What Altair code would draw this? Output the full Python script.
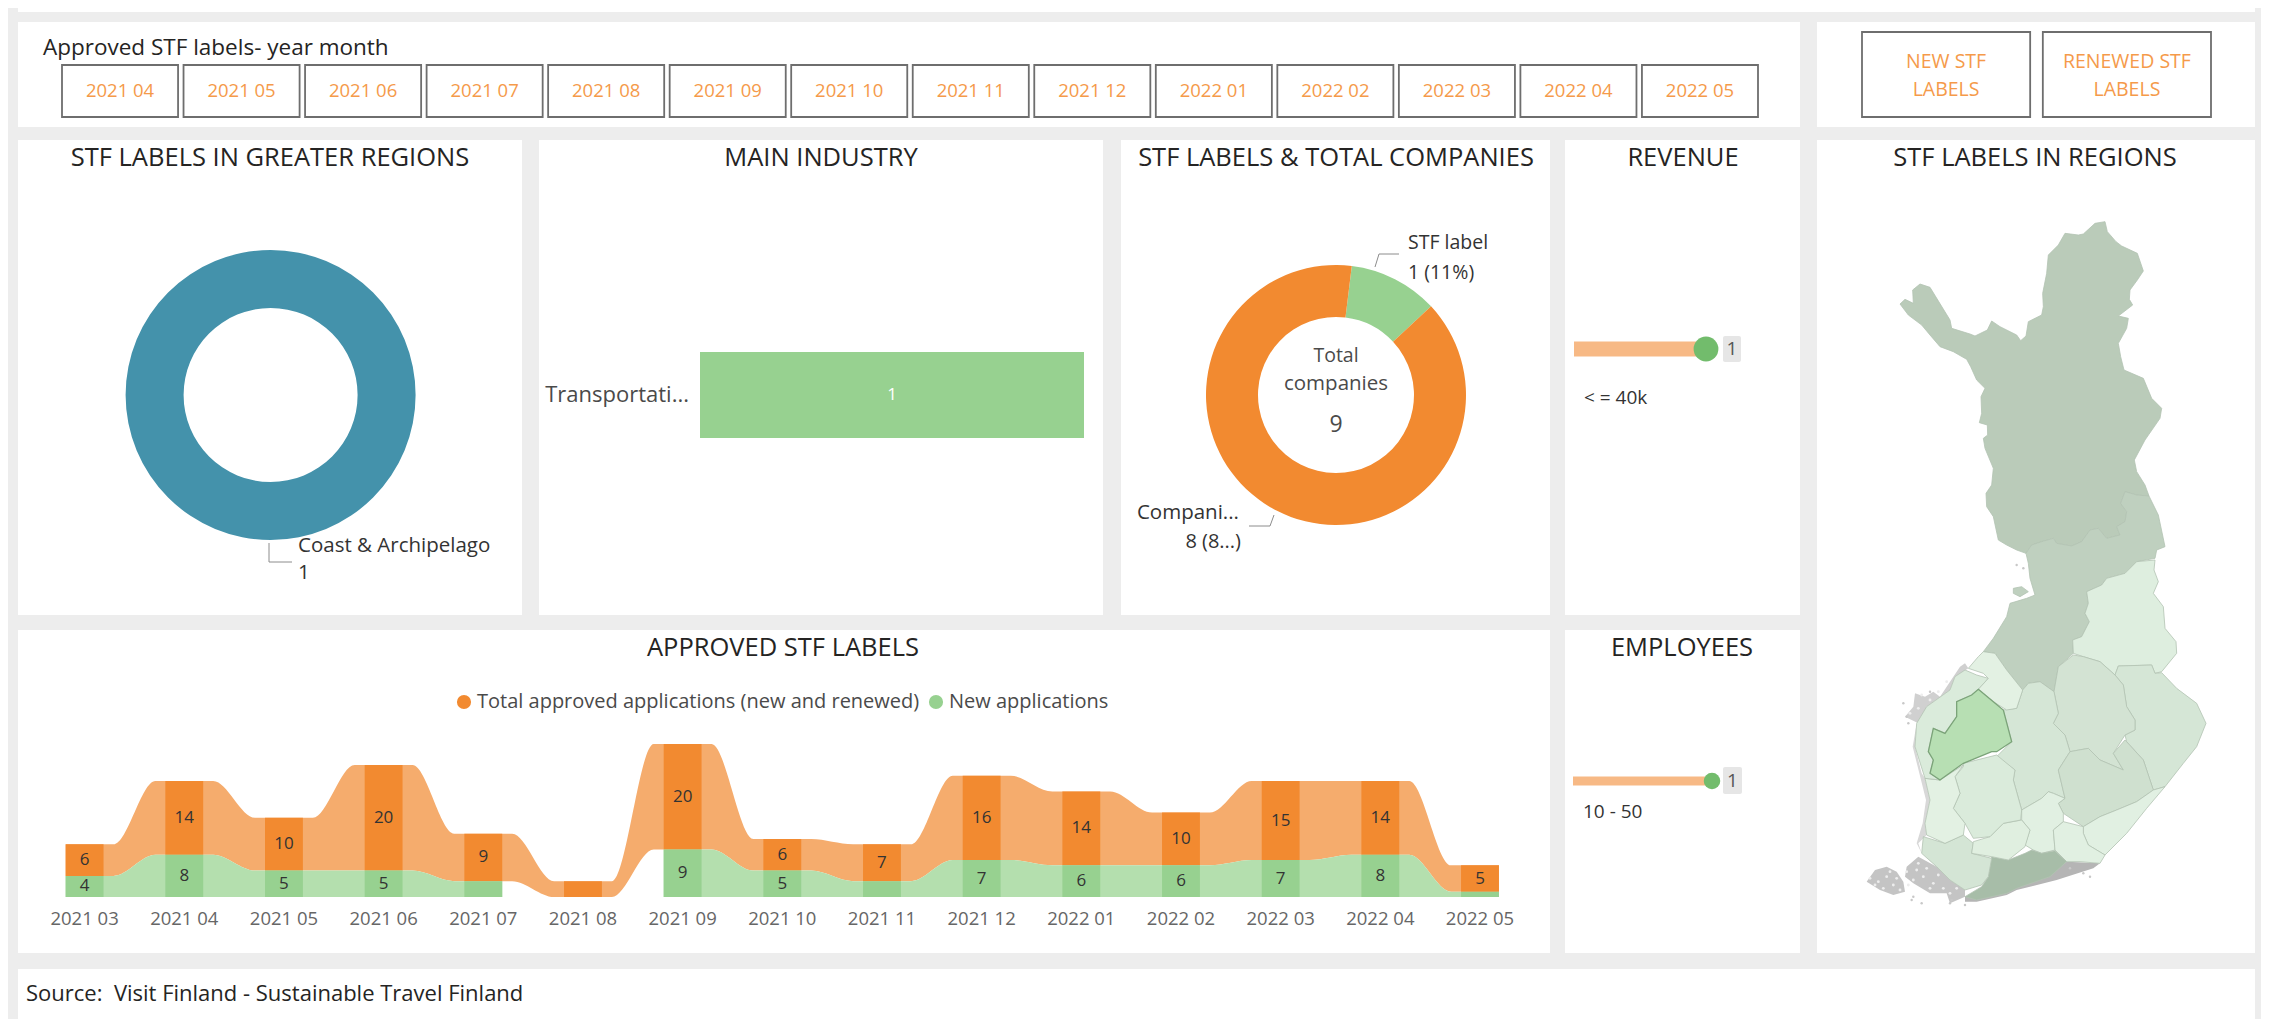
import altair as alt
import pandas as pd

FONT = "Open Sans"
ORANGE = "#F28A30"
ORANGE_L = "#F5AC6D"
GREEN = "#97D190"
GREEN_L = "#B4DFAE"
INK = "#252423"
GREY_TXT = "#4A4A4A"

# ---- values ----
filter_months = ["2021 04","2021 05","2021 06","2021 07","2021 08","2021 09","2021 10",
                 "2021 11","2021 12","2022 01","2022 02","2022 03","2022 04","2022 05"]
buttons = ["NEW STF\nLABELS", "RENEWED STF\nLABELS"]
months = ["2021 03","2021 04","2021 05","2021 06","2021 07","2021 08","2021 09","2021 10",
          "2021 11","2021 12","2022 01","2022 02","2022 03","2022 04","2022 05"]
new_apps = [4,8,5,5,3,0,9,5,3,7,6,6,7,8,1]
total_apps = [6,14,10,20,9,3,20,6,7,16,14,10,15,14,5]
SERIES = ["Total approved applications (new and renewed)", "New applications"]
region_names, region_values = ["Coast & Archipelago"], [1]
industry_names, industry_values = ["Transportati..."], [1]
share_names, share_values = ["STF label", "Companies"], [1, 8]
revenue_names, revenue_values = ["< = 40k"], [1]
employee_names, employee_values = ["10 - 50"], [1]

# map outlines (north part in one frame, south part offset by DY)
DY = 1050
def S(*pts):
    return [(x, y + DY) for x, y in pts]

lapland = [(765,35),(772,65),(798,95),(815,108),(862,130),(880,183),(862,210),(840,240),(838,268),(848,285),(805,318),(835,325),(830,355),(805,400),(812,440),(822,480),(880,505),(905,565),(935,595),(930,625),(885,690),(853,750),(860,785),(885,825),(897,858),(860,855),(825,845),(812,880),(830,905),(825,935),(800,950),(810,975),(770,985),(745,955),(720,960),(695,995),(665,1008),(620,1000),(610,985),(575,995),(545,1005),(528,1030),(500,1020),(470,1005),(445,990),(430,920),(410,890),(408,850),(425,825),(430,775),(405,715),(400,685),(413,675),(412,645),(388,638),(395,610),(393,560),(405,535),(380,510),(362,470),(350,448),(310,425),(270,410),(240,375),(215,345),(175,315),(150,282),(165,268),(190,280),(188,240),(210,222),(240,232),(300,330),(305,355),(360,372),(375,378),(412,360),(425,333),(450,350),(500,375),(512,392),(528,378),(535,335),(575,315),(580,290),(578,250),(590,190),(595,135),(625,105),(645,70),(685,75),(700,72),(735,40)]
n_ostro = [(528,1030),(545,1005),(575,995),(610,985),(620,1000),(665,1008),(695,995),(720,960),(745,955),(770,985),(810,975),(800,950),(825,935),(830,905),(812,880),(825,845),(860,855),(897,858),(925,915),(945,1010),(920,1020),(915,1045)] + S((860,5),(825,40),(770,55),(755,75),(710,95),(715,130),(705,160),(718,185),(695,230),(668,240),(670,280),(625,320),(612,395),(570,365),(535,370),(518,390),(470,330),(435,280),(400,275),(430,235),(470,170),(480,130),(530,115),(555,105),(540,55),(535,10))
hailuoto = S((490,85),(515,80),(535,95),(510,110),(490,100))
kainuu = S((915,0),(860,5),(825,40),(770,55),(755,75),(710,95),(715,130),(705,160),(718,185),(695,230),(668,240),(670,280),(700,290),(750,305),(795,345),(805,318),(905,315),(915,340),(935,335),(980,280),(978,245),(945,205),(940,140),(910,100),(925,65),(912,30))
n_karelia = S((805,318),(795,345),(820,375),(830,440),(855,480),(855,510),(825,525),(830,545),(880,600),(910,690),(945,680),(1000,610),(1040,560),(1068,490),(1040,430),(980,385),(935,338),(915,340),(905,315))
n_savo = S((625,320),(670,285),(700,290),(750,305),(795,345),(820,375),(830,440),(855,480),(855,510),(825,525),(790,580),(820,630),(750,600),(715,565),(660,575),(645,525),(610,490),(625,460),(612,395))
c_finland = S((518,390),(535,370),(570,365),(612,395),(625,460),(610,490),(645,525),(660,575),(625,630),(645,715),(610,700),(595,695),(575,715),(515,750),(490,660),(495,630),(440,590),(485,545),(460,450),(500,445))
s_savo = S((660,575),(715,565),(750,600),(820,630),(790,580),(825,540),(880,600),(910,690),(860,725),(800,750),(750,770),(700,800),(640,760),(625,730),(645,715),(625,630))
s_karelia = S((910,690),(945,680),(890,745),(830,820),(765,885),(715,855),(700,820),(700,800),(750,770),(800,750),(860,725))
paijat = S((515,750),(575,715),(595,695),(610,700),(645,715),(625,730),(640,760),(640,785),(610,810),(615,870),(575,880),(550,870),(525,855),(540,810),(515,780))
kymen = S((640,785),(700,800),(700,820),(715,855),(765,885),(750,910),(690,905),(650,905),(615,870),(610,810))
uusimaa = S((425,890),(475,900),(525,880),(545,870),(575,880),(615,872),(650,905),(600,950),(500,985),(470,1000),(380,1020),(345,1010),(395,980),(415,950))
varsinais = S((220,830),(285,850),(340,825),(370,850),(365,880),(425,895),(415,950),(395,975),(345,990),(300,960),(260,920),(215,880))
kanta = S((370,845),(420,830),(460,790),(515,780),(540,810),(525,860),(475,900),(425,890),(365,880))
pirkanmaa = S((340,620),(340,610),(440,585),(495,630),(490,660),(515,750),(512,780),(460,790),(420,830),(370,835),(345,790),(310,745),(330,700),(315,650))
satakunta = S((225,655),(270,660),(340,615),(315,650),(330,700),(310,745),(345,790),(340,825),(285,850),(230,825),(225,790),(240,720))
s_ostro = S((385,388),(430,425),(460,450),(485,545),(440,575),(425,575),(340,610),(270,660),(240,640),(250,600),(235,575),(250,505),(285,520),(320,470),(320,425),(365,405))
ostro = S((345,330),(380,345),(415,355),(385,388),(365,405),(320,425),(320,470),(285,520),(250,505),(235,575),(250,600),(240,640),(270,660),(225,655),(195,560),(200,490),(230,440),(300,390),(315,350))
c_ostro = S((400,275),(435,280),(470,330),(518,390),(500,445),(470,450),(430,425),(385,388),(415,355),(400,340),(355,325),(385,290))
aland = S((50,965),(75,930),(110,920),(140,935),(160,965),(165,995),(130,1005),(90,990))
turku_isl = S((170,920),(205,890),(260,920),(300,960),(345,990),(345,1010),(300,1030),(290,1000),(240,1000),(190,970),(165,950))
south_isl = S((345,1010),(380,1000),(500,970),(600,940),(650,905),(750,910),(730,925),(620,960),(500,990),(470,1005),(380,1025),(345,1025))
west_isl = S((195,400),(225,410),(250,395),(270,410),(330,320),(345,310),(355,325),(315,350),(300,390),(230,440),(205,490),(165,470),(190,440))
coast_isl = S((200,490),(195,560),(215,640),(225,655),(240,720),(225,790),(230,825),(205,850),(215,880),(200,850),(218,790),(228,720),(208,640),(188,560))

# gaps in the grey archipelago and its outlying islets
gaps_x = [85,110,130,60,100,150,120,75,140,220,250,280,200,240,190,265,300,230,205,320,170,175,215,240,265,180,290,205]
gaps_y = [965,950,975,955,985,990,935,975,955,950,970,985,930,985,960,945,1000,925,910,985,935,975,405,420,395,460,365,445]
islet_x = [190,215,185,305,160,170,345,300,660,700,720,500,520,240,175]
islet_y = [1010,1030,1020,1020,430,470,1035,1030,925,940,950,15,25,395,490]

map_islands = [(aland, "#C4C4C4"), (turku_isl, "#C4C4C4"), (south_isl, "#B5B5B5"),
               (west_isl, "#D0D0D0"), (coast_isl, "#D8D8D8")]
map_regions = [
    (lapland, "#BACBB9"), (n_ostro, "#BFD0BF"), (hailuoto, "#BFD0BF"), (kainuu, "#DEEEDF"),
    (n_karelia, "#D5E6D6"), (n_savo, "#D3E3D3"), (c_finland, "#D5E6D6"), (s_savo, "#CFE0CF"),
    (s_karelia, "#E1F0E2"), (paijat, "#E1F0E2"), (kymen, "#E1F0E2"), (uusimaa, "#A7BDA8"),
    (varsinais, "#D4E5D5"), (kanta, "#E0EFE0"), (pirkanmaa, "#DAEBDB"), (satakunta, "#E3F1E3"),
    (ostro, "#DAEBDB"), (c_ostro, "#E3F1E3"),
]
highlight = [(s_ostro, "#B7DFB3")]

# ---- helpers ----
ONE = pd.DataFrame({"k": [0]})

def label(text, x, y, ox, oy, size=15, color=GREY_TXT, align="left", **kw):
    return alt.Chart(ONE).mark_text(text=text, font=FONT, fontSize=size, color=color,
                                    align=align, baseline="middle", **kw).encode(
        x=alt.value(x - ox), y=alt.value(y - oy))

def heading(text, x, y, ox, oy):
    return label(text, x, y, ox, oy, size=25.5, color=INK, align="center")

def leader(pts, ox, oy):
    out = []
    for (x0, y0), (x1, y1) in zip(pts[:-1], pts[1:]):
        out.append(alt.Chart(ONE).mark_rule(color="#8C8C8C", strokeWidth=1).encode(
            x=alt.value(x0 - ox), x2=alt.value(x1 - ox),
            y=alt.value(y0 - oy), y2=alt.value(y1 - oy)))
    return out

def features(items):
    out = []
    for pts, fill in items:
        ring = [list(p) for p in pts] + [list(pts[0])]
        out.append({"type": "Feature", "properties": {"fill": fill},
                    "geometry": {"type": "Polygon", "coordinates": [ring]}})
    return out

def lollipop(name, value, ox, oy, w, h, x0, x1, ymid, thick, dotsize, box, cat_x, cat_y, title_xy, title):
    df = pd.DataFrame({"name": [name], "value": [value], "zero": [0]})
    xs = alt.Scale(domain=[0, 1], range=[x0 - ox, x1 - ox])
    bar = alt.Chart(df).mark_bar(color="#F7B985", height=thick).encode(
        x=alt.X("value:Q", scale=xs, axis=None), y=alt.value(ymid - oy))
    dot = alt.Chart(df).mark_circle(color="#72BC6C", size=dotsize, opacity=1).encode(
        x=alt.X("value:Q", scale=xs, axis=None), y=alt.value(ymid - oy))
    bg = alt.Chart(ONE).mark_rect(color="#E6E6E6", cornerRadius=2).encode(
        x=alt.value(box[0] - ox), x2=alt.value(box[1] - ox),
        y=alt.value(box[2] - oy), y2=alt.value(box[3] - oy))
    val = alt.Chart(df).mark_text(font=FONT, fontSize=19, color="#555555").encode(
        x=alt.value((box[0] + box[1]) / 2 - ox), y=alt.value(ymid - oy), text="value:Q")
    cat = alt.Chart(df).mark_text(font=FONT, fontSize=19, color="#333333", align="left").encode(
        x=alt.value(cat_x - ox), y=alt.value(cat_y - oy), text="name:N")
    return alt.layer(heading(title, title_xy[0], title_xy[1], ox, oy), bar, dot, bg, val, cat).properties(width=w, height=h)

# ---- top strip ----
strip = alt.Chart(ONE).mark_rect(color="white").encode(
    x=alt.value(0), x2=alt.value(2237), y=alt.value(0), y2=alt.value(4)).properties(width=2237, height=4)

# ---- filter panel ----
ox, oy = 18, 22
df_f = pd.DataFrame({"m": filter_months})
fx = alt.X("m:N", sort=None, axis=None,
           scale=alt.Scale(domain=filter_months, range=[62 - ox, 1758 - ox], paddingInner=0.045, paddingOuter=0))
filter_panel = alt.layer(
    label("Approved STF labels- year month", 43, 48, ox, oy, size=22.5, color=INK),
    alt.Chart(df_f).mark_rect(fill="white", stroke="#6E6E6E", strokeWidth=1.8).encode(
        x=fx, y=alt.value(65 - oy), y2=alt.value(117 - oy)),
    alt.Chart(df_f).mark_text(font=FONT, fontSize=18.5, color="#F59A4A").encode(
        x=fx, y=alt.value(91 - oy), text="m:N"),
).properties(width=1782, height=105)

# ---- buttons ----
ox = 1817
df_b = pd.DataFrame({"b": buttons})
bx = alt.X("b:N", sort=None, axis=None,
           scale=alt.Scale(domain=buttons, range=[1862 - ox, 2211 - ox], paddingInner=0.07, paddingOuter=0))
button_panel = alt.layer(
    alt.Chart(df_b).mark_rect(fill="white", stroke="#6E6E6E", strokeWidth=1.8).encode(
        x=bx, y=alt.value(32 - oy), y2=alt.value(117 - oy)),
    alt.Chart(df_b).mark_text(font=FONT, fontSize=19.5, color="#F59A4A", lineBreak="\n", lineHeight=28).encode(
        x=bx, y=alt.value(62 - oy), text="b:N"),
).properties(width=438, height=105)

# ---- greater regions donut ----
ox, oy = 18, 140
df_r = pd.DataFrame({"name": region_names, "value": region_values})
panel_a = alt.layer(
    heading("STF LABELS IN GREATER REGIONS", 270, 158, ox, oy),
    alt.Chart(df_r).mark_arc(radius=145, radius2=87, color="#4492AB").encode(
        theta="value:Q", x=alt.value(270.6 - ox), y=alt.value(395 - oy)),
    *leader([(269, 543), (269, 562), (292, 562)], ox, oy),
    alt.Chart(df_r).mark_text(font=FONT, fontSize=20.5, color="#333333", align="left").encode(
        x=alt.value(298 - ox), y=alt.value(546 - oy), text="name:N"),
    alt.Chart(df_r).mark_text(font=FONT, fontSize=20.5, color="#333333", align="left").encode(
        x=alt.value(298 - ox), y=alt.value(573 - oy), text="value:Q"),
).properties(width=504, height=475)

# ---- main industry ----
ox = 539
df_i = pd.DataFrame({"name": industry_names, "value": industry_values})
ix = alt.Scale(domain=[0, 1], range=[700 - ox, 1084 - ox])
iy = alt.Scale(domain=industry_names, range=[352 - oy, 438 - oy], paddingInner=0, paddingOuter=0)
panel_b = alt.layer(
    heading("MAIN INDUSTRY", 821, 158, ox, oy),
    alt.Chart(df_i).mark_bar(color=GREEN).encode(
        x=alt.X("value:Q", scale=ix, axis=None), y=alt.Y("name:N", scale=iy, axis=None)),
    alt.Chart(df_i).mark_text(font=FONT, fontSize=17, color="white").encode(
        x=alt.value((700 + 1084) / 2 - ox), y=alt.Y("name:N", scale=iy, axis=None), text="value:Q"),
    alt.Chart(df_i).mark_text(font=FONT, fontSize=22, color=GREY_TXT, align="right").encode(
        x=alt.value(689 - ox), y=alt.Y("name:N", scale=iy, axis=None), text="name:N"),
).properties(width=564, height=475)

# ---- share donut ----
ox = 1121
df_s = pd.DataFrame({"name": share_names, "value": share_values, "rank": [0, 1]})
panel_c = alt.layer(
    heading("STF LABELS & TOTAL COMPANIES", 1336, 158, ox, oy),
    alt.Chart(df_s).mark_arc(radius=130, radius2=78).encode(
        theta=alt.Theta("value:Q", stack=True, scale=alt.Scale(range=[0.122, 6.405])),
        order=alt.Order("rank:Q"),
        color=alt.Color("name:N", scale=alt.Scale(domain=share_names, range=[GREEN, ORANGE]), legend=None),
        x=alt.value(1336 - ox), y=alt.value(395 - oy)),
    label("Total", 1336, 356, ox, oy, size=19.5, align="center"),
    label("companies", 1336, 384, ox, oy, size=20.5, align="center"),
    label("9", 1336, 425, ox, oy, size=23, align="center"),
    *leader([(1375, 267), (1379, 254), (1399, 254)], ox, oy),
    *leader([(1274, 515), (1270, 526), (1249, 526)], ox, oy),
    label("STF label", 1408, 243, ox, oy, size=19.5, color="#333333"),
    label("1 (11%)", 1408, 273, ox, oy, size=19.5, color="#333333"),
    label("Compani...", 1239, 513, ox, oy, size=20.5, color="#333333", align="right"),
    label("8 (8...)", 1241, 542, ox, oy, size=20, color="#333333", align="right"),
).properties(width=429, height=475)

# ---- revenue ----
panel_d = lollipop(revenue_names[0], revenue_values[0], 1565, 140, 235, 475,
                   1574, 1706, 349, 15, 615, (1723, 1741, 336, 362), 1584, 398, (1683, 158), "REVENUE")

# ---- ribbon chart ----
ox, oy = 18, 630
HALF = 0.19
SHOULDER = 0.29
other_apps = total_apps

def offsets(first, last):
    left = [-HALF] if first else [-SHOULDER, -HALF]
    right = [HALF] if last else [HALF, SHOULDER]
    return left + right

ribbon_o, ribbon_g = [], []
last_i = len(months) - 1
for i, (n, o) in enumerate(zip(new_apps, other_apps)):
    for off in offsets(i == 0, i == last_i):
        ribbon_o.append({"pos": i + off, "new": n, "top": n + o})
    if n > 0:
        first = i == 0 or new_apps[i - 1] == 0
        last = i == last_i or new_apps[i + 1] == 0
        for off in offsets(first, last):
            ribbon_g.append({"pos": i + off, "new": n, "zero": 0, "seg": 0 if i < 5 else 1})
df_rib_o = pd.DataFrame(ribbon_o)
df_rib_g = pd.DataFrame(ribbon_g)
blocks = []
for i, (m, n, o) in enumerate(zip(months, new_apps, other_apps)):
    blocks.append({"l": i - HALF, "r": i + HALF, "b": n, "t": n + o, "s": SERIES[0], "mid": n + o / 2, "lab": o, "i": i, "m": m})
    if n > 0:
        blocks.append({"l": i - HALF, "r": i + HALF, "b": 0, "t": n, "s": SERIES[1], "mid": n / 2, "lab": n, "i": i, "m": m})
df_blk = pd.DataFrame(blocks)
xs = alt.Scale(domain=[0, 14], range=[84.6 - ox, 1480 - ox])
ys = alt.Scale(domain=[0, 29], range=[897 - oy, 744 - oy])
xq = lambda f: alt.X(f, scale=xs, axis=None)
yq = lambda f: alt.Y(f, scale=ys, axis=None)
panel_e = alt.layer(
    heading("APPROVED STF LABELS", 783, 648, ox, oy),
    alt.Chart(df_rib_o).mark_area(interpolate="monotone", color=ORANGE_L).encode(
        x=xq("pos:Q"), y=yq("new:Q"), y2="top:Q"),
    alt.Chart(df_rib_g).mark_area(interpolate="monotone", color=GREEN_L).encode(
        x=xq("pos:Q"), y=yq("new:Q"), y2="zero:Q", detail="seg:N"),
    alt.Chart(df_blk).mark_rect().encode(
        x=xq("l:Q"), x2="r:Q", y=yq("b:Q"), y2="t:Q",
        color=alt.Color("s:N", scale=alt.Scale(domain=SERIES, range=[ORANGE, GREEN]),
                        legend=alt.Legend(orient="none", legendX=436, legendY=62, direction="horizontal",
                                          title=None, symbolType="circle", symbolSize=200, symbolStrokeWidth=0,
                                          labelFont=FONT, labelFontSize=20, labelColor=GREY_TXT, labelLimit=600,
                                          labelOffset=3, columnPadding=6))),
    alt.Chart(df_blk[df_blk["lab"] >= 4]).mark_text(font=FONT, fontSize=17, color="#333333").encode(
        x=xq("i:Q"), y=yq("mid:Q"), text="lab:Q"),
    alt.Chart(df_blk.drop_duplicates("i")).mark_text(font=FONT, fontSize=18.5, color="#666666").encode(
        x=xq("i:Q"), y=alt.value(919 - oy), text="m:N"),
).properties(width=1532, height=323)

# ---- employees ----
panel_f = lollipop(employee_names[0], employee_values[0], 1565, 630, 235, 323,
                   1573, 1712, 781, 9, 272, (1723, 1742, 767, 794), 1583, 812, (1682, 648), "EMPLOYEES")

# ---- map ----
ox, oy = 1817, 140
PW = dict(type="identity", scale=1 / 3, translate=[1850 - ox, 210 - oy])
def geo(items, **mark):
    return alt.Chart(alt.Data(values=features(items))).mark_geoshape(**mark).encode(
        color=alt.Color("properties.fill:N", scale=None)).project(**PW)
def flecks(xv, yv, color, size):
    return alt.Chart(pd.DataFrame({"lon": xv, "lat": [v + DY for v in yv]})).mark_circle(
        color=color, size=size, opacity=1).encode(longitude="lon:Q", latitude="lat:Q").project(**PW)
panel_m = alt.layer(
    alt.Chart(ONE).mark_rect(color="white").encode(
        x=alt.value(0), x2=alt.value(438), y=alt.value(0), y2=alt.value(813)),
    heading("STF LABELS IN REGIONS", 2035, 158, ox, oy),
    geo(map_islands, strokeWidth=0),
    flecks(gaps_x, gaps_y, "#EDEDED", 8),
    flecks(islet_x, islet_y, "#C8C8C8", 6),
    geo(map_regions, stroke="#B3C3B3", strokeWidth=0.8),
    geo(highlight, stroke="#7BA379", strokeWidth=1.3),
).properties(width=438, height=813)

# ---- source ----
source_panel = label("Source:\u00a0 Visit Finland - Sustainable Travel Finland", 26, 994, 18, 969, size=22, color=INK).properties(width=2237, height=50)

# ---- layout ----
def ind(c):
    return c.resolve_scale(color="independent")

row1 = ind(alt.hconcat(ind(alt.hconcat(panel_a, panel_b, spacing=17)), ind(alt.hconcat(panel_c, panel_d, spacing=15)), spacing=18))
row2 = ind(alt.hconcat(panel_e, panel_f, spacing=15))
left = ind(alt.vconcat(row1, row2, spacing=15))
mid = ind(alt.hconcat(left, panel_m, spacing=17))
top = ind(alt.hconcat(filter_panel, button_panel, spacing=17))
chart = ind(alt.vconcat(strip, ind(alt.vconcat(top, ind(alt.vconcat(mid, source_panel, spacing=16)), spacing=13)), spacing=10))
chart = chart.properties(background="#EDEDED", padding={"left": 10, "top": 0, "right": 6, "bottom": 0}) \
    .configure_view(stroke=None, fill="white")

chart.save("out.html", embed_options={"renderer": "svg", "actions": False})
